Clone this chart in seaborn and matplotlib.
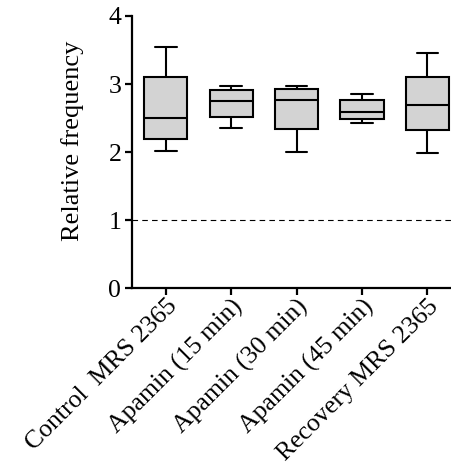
import matplotlib
matplotlib.use("Agg")
import matplotlib.pyplot as plt
import seaborn as sns
import pandas as pd

categories = ["Control  MRS 2365", "Apamin (15 min)", "Apamin (30 min)",
              "Apamin (45 min)", "Recovery MRS 2365"]
# five-number summaries: min, q1, median, q3, max
mins    = [2.01, 2.36, 2.00, 2.43, 1.99]
q1s     = [2.19, 2.515, 2.34, 2.49, 2.33]
medians = [2.50, 2.755, 2.77, 2.59, 2.69]
q3s     = [3.11, 2.92, 2.93, 2.76, 3.10]
maxs    = [3.55, 2.965, 2.965, 2.86, 3.46]
yticks = [0, 1, 2, 3, 4]

rows = []
for c, a, b, m, d, e in zip(categories, mins, q1s, medians, q3s, maxs):
    for v in (a, b, m, d, e):
        rows.append({"group": c, "value": v})
df = pd.DataFrame(rows)

sns.set_style("ticks")
plt.rcParams["font.family"] = ["Liberation Serif", "DejaVu Serif"]
plt.rcParams["text.color"] = "black"
plt.rcParams["axes.labelcolor"] = "black"
plt.rcParams["xtick.color"] = "black"
plt.rcParams["ytick.color"] = "black"

fig = plt.figure(figsize=(4.51, 4.70), dpi=100)
ax = fig.add_axes([0.292, 0.3866, 0.708, 0.5794])

lw = 1.5
sns.boxplot(data=df, x="group", y="value", order=categories, ax=ax,
            whis=(0, 100), width=0.66, color="#d3d3d3", fliersize=0,
            linewidth=lw, linecolor="black",
            boxprops=dict(facecolor="#d3d3d3", edgecolor="black", linewidth=lw),
            medianprops=dict(color="black", linewidth=lw),
            whiskerprops=dict(color="black", linewidth=lw),
            capprops=dict(color="black", linewidth=lw))

ax.axhline(1, color="black", lw=0.8, ls=(0, (5, 3.8)), zorder=0)

ax.set_ylim(0, 4)
ax.set_xlim(-0.52, 4.36)
ax.set_yticks(yticks)
ax.set_yticklabels([str(t) for t in yticks])
ax.set_ylabel("Relative frequency", fontsize=19)
ax.yaxis.set_label_coords(-0.15, 0.541)
ax.set_xlabel("")
for s in ("top", "right"):
    ax.spines[s].set_visible(False)
for s in ("left", "bottom"):
    ax.spines[s].set_linewidth(1.6)
    ax.spines[s].set_color("black")
ax.tick_params(axis="y", width=1.6, length=5, color="black",
               labelcolor="black", labelsize=18.5, pad=2.5)
ax.tick_params(axis="x", width=1.6, length=5, color="black",
               labelcolor="black", pad=0)
ax.set_xticks(range(len(categories)))
ax.set_xticklabels(categories, rotation=45, ha="right",
                   rotation_mode="anchor", fontsize=18.5)

fig.savefig("out.png", dpi=100)
